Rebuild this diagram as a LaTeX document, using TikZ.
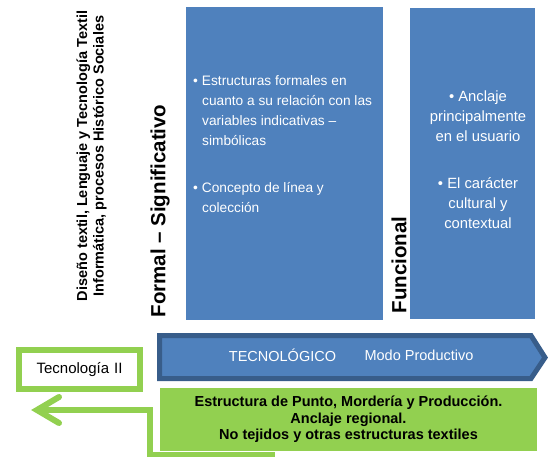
\documentclass[tikz,border=0pt]{standalone}
\usepackage{fontspec}
\setmainfont{Liberation Sans}
\definecolor{boxblue}{HTML}{4F81BD}
\definecolor{darkblue}{HTML}{385D8A}
\definecolor{lgreen}{HTML}{92D050}
\begin{document}
\begin{tikzpicture}[x=1pt,y=-1pt,
  bluebox/.style={fill=boxblue,draw=none},
  boxtext/.style={text=white,font=\fontsize{13.7}{20}\selectfont,inner sep=0pt},
  boxtextb/.style={text=white,font=\fontsize{14.8}{20}\selectfont,inner sep=0pt},
  sidelabel/.style={rotate=90,font=\bfseries\fontsize{20.5}{24}\selectfont,inner sep=0pt},
]
\useasboundingbox (0,0) rectangle (549,456);
\clip (0,0) rectangle (549,456);
% left rotated label
\node[rotate=90,align=center,font=\bfseries\fontsize{14.5}{16.5}\selectfont,inner sep=0pt] (disc) at (91.5,156)
  {Diseño textil, Lenguaje y Tecnología Textil\\Informática, procesos Histórico Sociales};
% blue boxes
\fill[bluebox] (186,7) rectangle (383,320);
\node[inner sep=0pt] (b1) at (284.5,163.5) {};
\fill[bluebox] (410,8) rectangle (535,319);
\node[inner sep=0pt] (b2) at (472.5,163.5) {};
% side labels
\node[sidelabel] (formal) at (160,211) {Formal – Significativo};
\node[sidelabel] (func) at (399,265) {Funcional};
% box 1 text
\node[boxtext,align=left,anchor=north west] (t1) at (193,75)
  {•\hspace{4pt}Estructuras formales en\\
   \hspace{9pt}cuanto a su relación con las\\
   \hspace{9pt}variables indicativas –\\
   \hspace{9pt}simbólicas};
\node[boxtext,align=left,anchor=north west] (t2) at (193,182)
  {•\hspace{4pt}Concepto de línea y\\
   \hspace{9pt}colección};
% box 2 text
\node[boxtextb,align=center,anchor=north] (t3) at (478,91)
  {• Anclaje\\principalmente\\en el usuario};
\node[boxtextb,align=center,anchor=north] (t4) at (478,177)
  {• El carácter\\cultural y\\contextual};
% banner
\draw[fill=boxblue,draw=darkblue,line width=5pt,line join=miter]
  (159.5,335.5) -- (531,335.5) -- (545,357.5) -- (531,378.5) -- (159.5,378.5) -- cycle;
\node[text=white,font=\fontsize{14.5}{16}\selectfont,inner sep=0pt] (tec) at (282.5,355) {TECNOLÓGICO};
\node[text=white,font=\fontsize{14.5}{16}\selectfont,inner sep=0pt] (modo) at (419,355) {Modo Productivo};
% Tecnologia II box
\node[draw=lgreen,line width=6pt,fill=white,minimum width=121pt,minimum height=39pt,inner sep=0pt,
  font=\fontsize{15}{17}\selectfont] (tii) at (79.5,369.5) {Tecnología\hspace{5pt}II};
% green box
\node[fill=lgreen,minimum width=377pt,minimum height=63pt,inner sep=0pt,align=center,
  font=\bfseries\fontsize{14.5}{16.5}\selectfont] (est) at (348.5,419.5)
  {Estructura de Punto, Mordería y Producción.\\Anclaje regional.\\No tejidos y otras estructuras textiles};
% green return arrow
\coordinate (a0) at (275,455);
\coordinate (a1) at (150,455);
\coordinate (a2) at (150,410);
\coordinate (a3) at (37,410);
\draw[lgreen,line width=6pt,line join=miter] (a0) -- (a1) -- (a2) -- (a3);
\draw[lgreen,line width=6pt,line cap=round,line join=miter] (59,397) -- (a3) -- (59,423);
\end{tikzpicture}
\end{document}
